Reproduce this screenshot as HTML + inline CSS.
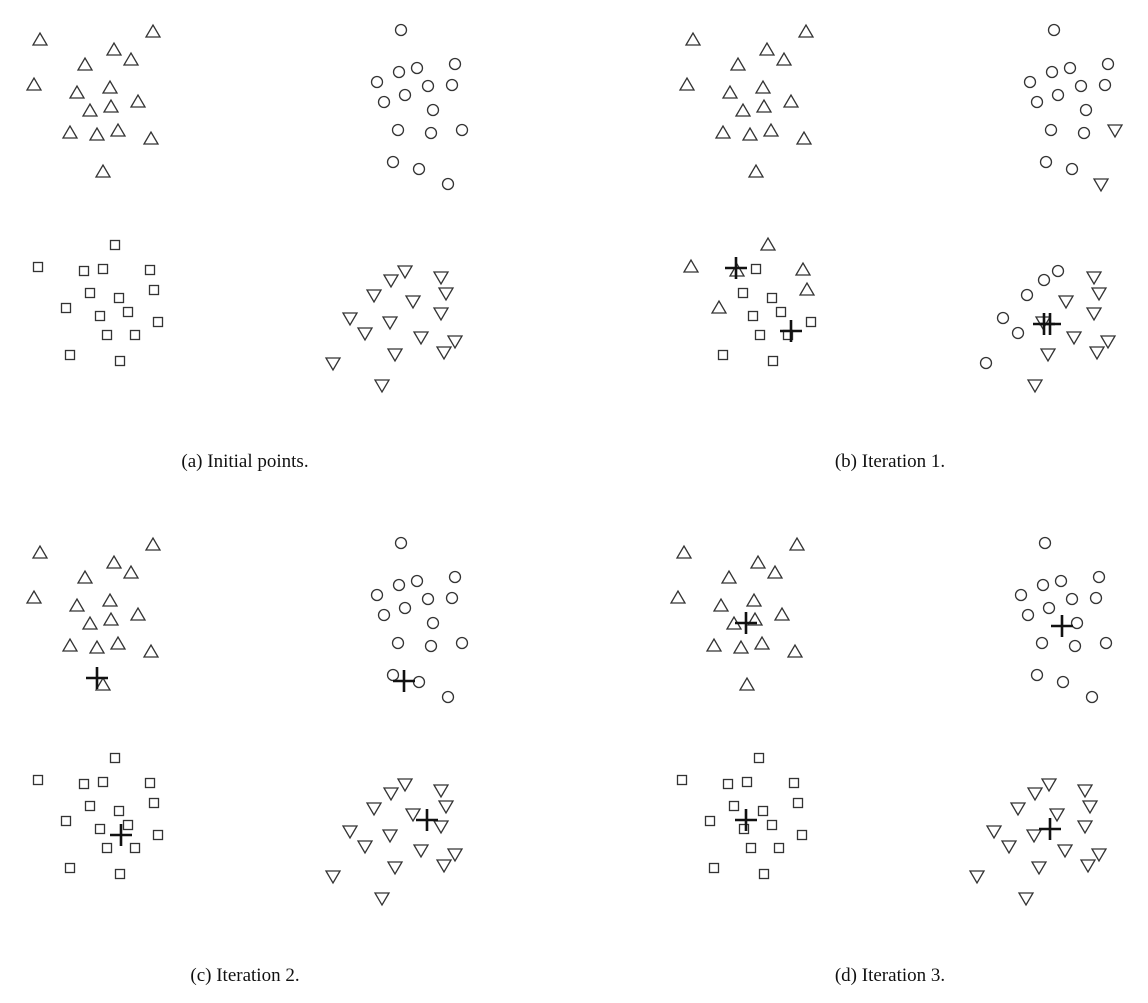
<!DOCTYPE html>
<html><head><meta charset="utf-8"><style>
html,body{margin:0;padding:0;background:#fff;}
svg text{font-family:"Liberation Serif",serif;font-size:19px;fill:#111;}
</style></head><body>
<svg id="fig" width="1148" height="998" viewBox="0 0 1148 998">
<text x="245" y="467" text-anchor="middle">(a) Initial points.</text>
<text x="890" y="467" text-anchor="middle">(b) Iteration 1.</text>
<text x="245" y="981" text-anchor="middle">(c) Iteration 2.</text>
<text x="890" y="981" text-anchor="middle">(d) Iteration 3.</text>
</svg>
<script>
// base point positions (panel a coordinates)
const ptsX = [40,153,114,131,85,34,77,110,138,90,111,70,97,118,151,103,
 401,377,399,417,455,405,384,428,452,433,398,431,462,393,419,448,
 115,38,84,103,150,90,154,66,119,100,128,158,107,135,70,120,
 405,391,441,374,413,446,350,390,441,365,421,455,395,444,333,382];
const ptsY = [40,32,50,60,65,85,93,88,102,111,107,133,135,131,139,172,
 30,82,72,68,64,95,102,86,85,110,130,133,130,162,169,184,
 245,267,271,269,270,293,290,308,298,316,312,322,335,335,355,361,
 271,280,277,295,301,293,318,322,313,333,337,341,354,352,363,385];
// class labels: t=up triangle, c=circle, s=square, d=down triangle
const classA = "tttttttttttttttt"+"cccccccccccccccc"+"ssssssssssssssss"+"dddddddddddddddd";
const classB = "tttttttttttttttt"+"ccccccccccccdccd"+"tttststtssssssss"+"ccdcddcddcddddcd";
const classC = classA, classD = classA;
const classesByPanel = [classA, classB, classC, classD];
const offX = [0, 653, 0, 644];
const offY = [0, 0, 513, 513];
const centX = [[], [736,791,1044,1050], [97,404,121,427], [746,1062,746,1050]];
const centY = [[], [268,331,324,324], [678,681,835,820], [623,626,820,829]];

const svg = document.getElementById('fig');
const NS = 'http://www.w3.org/2000/svg';
function mk(tag, attrs){const e=document.createElementNS(NS,tag);for(const k in attrs)e.setAttribute(k,attrs[k]);return e;}
const panelNames=['a','b','c','d'];
for(let p=0;p<4;p++){
  const g=mk('g',{});
  
  
  svg.appendChild(g);
  const cls=classesByPanel[p];
  for(let i=0;i<ptsX.length;i++){
    const x=ptsX[i]+offX[p], y=ptsY[i]+offY[p], c=cls[i];
    let e;
    const st={fill:'none',stroke:'#333','stroke-width':1.3};
    if(c==='t'){e=mk('polygon',Object.assign({points:`${x-7},${y+5} ${x+7},${y+5} ${x},${y-7}`},st));}
    else if(c==='d'){e=mk('polygon',Object.assign({points:`${x-7},${y-5} ${x+7},${y-5} ${x},${y+7}`},st));}
    else if(c==='c'){e=mk('circle',Object.assign({cx:x,cy:y,r:5.5},st));}
    else {e=mk('rect',Object.assign({x:x-4.5,y:y-4.5,width:9,height:9},st));}
    
    
    g.appendChild(e);
  }
  for(let k=0;k<centX[p].length;k++){
    const x=centX[p][k], y=centY[p][k];
    const e=mk('path',{d:`M${x-11},${y}H${x+11}M${x},${y-11}V${y+11}`,stroke:'#111','stroke-width':2.6,fill:'none'});
    
    
    g.appendChild(e);
  }
}
</script>
</body></html>
